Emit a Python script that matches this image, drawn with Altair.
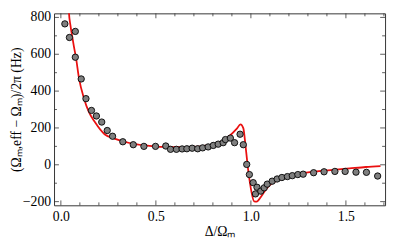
import altair as alt
import pandas as pd

# measured points
pts_x = [0.021, 0.045, 0.076, 0.076, 0.107, 0.132, 0.161, 0.187, 0.215, 0.244,
         0.272, 0.326, 0.381, 0.437, 0.498, 0.552, 0.577, 0.608, 0.638, 0.663,
         0.691, 0.720, 0.746, 0.775, 0.802, 0.828, 0.854, 0.866, 0.892, 0.914,
         0.943, 0.960, 0.978, 0.992, 1.012, 1.024, 1.032, 1.052, 1.070, 1.086,
         1.112, 1.138, 1.163, 1.192, 1.218, 1.247, 1.275, 1.330, 1.385, 1.442,
         1.496, 1.553, 1.608, 1.667]
pts_y = [765, 691, 724, 584, 466, 359, 295, 265, 232, 186,
         155, 125, 109, 100, 100, 102, 84, 84, 86, 87,
         90, 87, 92, 97, 105, 112, 120, 137, 145, 120,
         166, 109, 2, -53, -97, -158, -122, -143, -125, -105,
         -89, -77, -69, -64, -59, -53, -51, -43, -38, -36,
         -36, -40, -41, -61]

# theory curve
fit_x = [0.040, 0.0428, 0.050, 0.059, 0.068, 0.079, 0.096, 0.122, 0.146, 0.179,
         0.230, 0.282, 0.366, 0.454, 0.540, 0.620, 0.694, 0.763, 0.831, 0.883,
         0.926, 0.945, 0.960, 0.972, 0.986, 1.003, 1.017, 1.030, 1.055, 1.080,
         1.106, 1.175, 1.261, 1.347, 1.433, 1.519, 1.605, 1.682]
fit_y = [880, 822, 760, 701, 645, 584, 466, 359, 290, 232,
         166, 142, 117, 104, 97, 96, 97, 104, 120, 153,
         196, 219, 199, 100, -31, -147, -199, -200, -171, -132,
         -105, -72, -48, -36, -28, -20, -12, -7]

x_major = [0.0, 0.5, 1.0, 1.5]
x_minor = [0.1, 0.2, 0.3, 0.4, 0.6, 0.7, 0.8, 0.9, 1.1, 1.2, 1.3, 1.4, 1.6, 1.7]
y_major = [-200, 0, 200, 400, 600, 800]
y_minor = [-100, 100, 300, 500, 700]
y_labels = ["−200", "0", "200", "400", "600", "800"]

W, H = 338, 196
xs = alt.Scale(domain=[-0.036, 1.706], nice=False, zero=False)
ys = alt.Scale(domain=[-220, 822], nice=False, zero=False)

pts = pd.DataFrame({"x": pts_x, "y": pts_y})
fit = pd.DataFrame({"x": fit_x, "y": fit_y})

FONT = "Liberation Serif"

line = alt.Chart(fit).mark_line(color="#ea1010", strokeWidth=1.8, clip=True,
                                interpolate="monotone").encode(
    x=alt.X("x:Q", scale=xs,
            axis=alt.Axis(values=x_major, format=".1f", title="Δ/Ωₘ",
                          labelPadding=4, titlePadding=2)),
    y=alt.Y("y:Q", scale=ys,
            axis=alt.Axis(values=y_major, labels=False,
                          title="(Ωₘ,eff − Ωₘ)/2π (Hz)",
                          titlePadding=31)),
)

points = alt.Chart(pts).mark_circle(size=42, opacity=1, fill="#7f7f7f",
                                    stroke="black", strokeWidth=0.9,
                                    clip=True).encode(
    x=alt.X("x:Q", scale=xs),
    y=alt.Y("y:Q", scale=ys),
)

ylab = alt.Chart(pd.DataFrame({"y": y_major, "lab": y_labels})).mark_text(
    align="right", baseline="middle", font=FONT, fontSize=14, color="black",
    dx=-3).encode(
    y=alt.Y("y:Q", scale=ys),
    x=alt.value(0),
    text="lab:N",
)

def xticks(vals, length):
    df = pd.DataFrame({"x": vals})
    bottom = alt.Chart(df).mark_rule(color="#333", strokeWidth=0.8).encode(
        x=alt.X("x:Q", scale=xs),
        y=alt.value(H), y2=alt.value(H - length))
    top = alt.Chart(df).mark_rule(color="#333", strokeWidth=0.8).encode(
        x=alt.X("x:Q", scale=xs),
        y=alt.value(0), y2=alt.value(length))
    return [bottom, top]

def yticks(vals, length):
    df = pd.DataFrame({"y": vals})
    left = alt.Chart(df).mark_rule(color="#333", strokeWidth=0.8).encode(
        y=alt.Y("y:Q", scale=ys),
        x=alt.value(0), x2=alt.value(length))
    right = alt.Chart(df).mark_rule(color="#333", strokeWidth=0.8).encode(
        y=alt.Y("y:Q", scale=ys),
        x=alt.value(W), x2=alt.value(W - length))
    return [left, right]

layers = ([line, points, ylab] + xticks(x_major, 5) + xticks(x_minor, 3) +
          yticks(y_major, 5) + yticks(y_minor, 3))

chart = alt.layer(*layers).properties(
    width=W, height=H,
    autosize=alt.AutoSizeParams(type="none"),
    padding={"left": 47, "top": 3, "right": 3, "bottom": 36},
).configure_view(stroke="#333", strokeWidth=1).configure_axis(
    ticks=False, tickSize=0, domain=False, grid=False,
    labelOverlap=False, labelFlush=False,
    labelFont=FONT, labelFontSize=14, labelColor="black",
    titleFont=FONT, titleFontSize=14, titleFontWeight="normal",
    titleColor="black",
)

chart.save("out.html", embed_options={"renderer": "svg", "actions": False})
